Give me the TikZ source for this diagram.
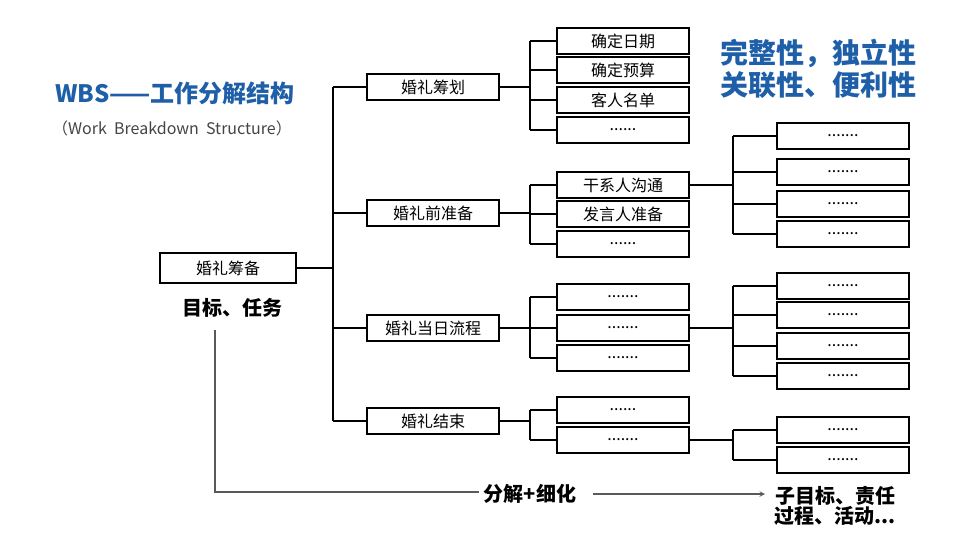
\documentclass[tikz,border=0pt]{standalone}
\usepackage{fontspec}
\setmainfont{Noto Sans CJK SC}
\newcommand{\dsix}{......}
\newcommand{\dsev}{.......}
\begin{document}
\begin{tikzpicture}[x=0.75pt,y=-0.75pt,
 bx/.style={draw=black,line width=1.4pt,minimum height=20pt,inner sep=0pt,font=\fontsize{12}{14}\selectfont},
 l1/.style={bx,minimum width=99pt},
 l2/.style={bx,minimum width=99pt,minimum height=19pt},
 l3/.style={bx,minimum width=99pt,minimum height=19pt},
 ln/.style={line width=1.4pt}]
\useasboundingbox (0,0) rectangle (960,540);
\node (t1) at (175,93) {\fontsize{18}{20}\selectfont\bfseries\color[HTML]{1F5FA8}WBS——工作分解结构};
\node (t2) at (172,128) {\fontsize{12}{14}\selectfont\color[HTML]{444444}（Work\ \ Breakdown\ \ Structure）};
\node[align=left] (t3) at (818,69) {\fontsize{21}{28}\selectfont\bfseries\color[HTML]{1F5FA8}完整性，独立性\\[2pt]\fontsize{21}{28}\selectfont\bfseries\color[HTML]{1F5FA8}关联性、便利性};
\node[bx,minimum width=102pt,minimum height=22pt] (r) at (228,268) {婚礼筹备};
\node (goal) at (232,308) {\fontsize{15}{17}\selectfont\bfseries 目标、任务};
\node[l1] (a) at (433,87) {婚礼筹划};
\node[l1] (b) at (433,213) {婚礼前准备};
\node[l1] (c) at (433,328) {婚礼当日流程};
\node[l1] (d) at (433,421) {婚礼结束};
\draw[ln] (r.east) -- (333,268);
\draw[ln] (333,87) -- (333,421);
\foreach \n in {a,b,c,d} \draw[ln] (333,0 |- \n.west) -- (\n.west);
% level 2
\foreach \nm/\y/\t in {a1/41/确定日期,a2/70/确定预算,a3/100/客人名单,a4/130/\dsix,
 b1/185/干系人沟通,b2/214/发言人准备,b3/244/\dsix,
 c1/297/\dsev,c2/328/\dsev,c3/358/\dsev,
 d1/410/\dsix,d2/440/\dsev}
 \node[l2] (\nm) at (623,\y) {\t};
\draw[ln] (530,41)--(530,130); \draw[ln] (a.east)--(530,87);
\draw[ln] (530,185)--(530,244); \draw[ln] (b.east)--(530,213);
\draw[ln] (530,297)--(530,358); \draw[ln] (c.east)--(530,328);
\draw[ln] (530,410)--(530,440); \draw[ln] (d.east)--(530,421);
\foreach \n in {a1,a2,a3,a4,b1,b2,b3,c1,c2,c3,d1,d2} \draw[ln] (530,0 |- \n.west) -- (\n.west);
% level 3
\foreach \nm/\y in {e1/136,e2/172,e3/204,e4/234,f1/286,f2/315,f3/346,f4/376,g1/430,g2/460}
 \node[l3] (\nm) at (843,\y) {\dsev};
\draw[ln] (b1.east)--(733,185); \draw[ln] (733,136)--(733,234);
\draw[ln] (c2.east)--(733,328); \draw[ln] (733,286)--(733,376);
\draw[ln] (d2.east)--(733,440); \draw[ln] (733,430)--(733,460);
\foreach \n in {e1,e2,e3,e4,f1,f2,f3,f4,g1,g2} \draw[ln] (733,0 |- \n.west) -- (\n.west);
% bottom
\node (m) at (530,494) {\fontsize{15}{17}\selectfont\bfseries 分解+细化};
\node[align=center] (s) at (835,506) {\fontsize{15}{17}\selectfont\bfseries 子目标、责任\\\fontsize{15}{17}\selectfont\bfseries 过程、活动...};
\coordinate (p0) at (215,330);
\coordinate (p1) at (215,492);
\coordinate (q1) at (765,494);
\draw[line width=0.8pt,color=gray!70!black] (p0) -- (p1) -- (p1 -| m.west);
\draw[line width=0.8pt,color=gray!70!black,-stealth] ([xshift=9pt]m.east) -- (q1);
\end{tikzpicture}
\end{document}
